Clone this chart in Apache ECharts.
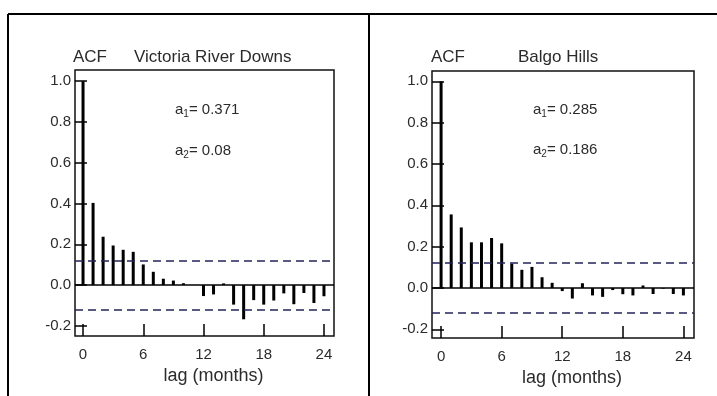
<!DOCTYPE html>
<html>
<head>
<meta charset="utf-8">
<script src="https://cdn.jsdelivr.net/npm/echarts@6/dist/echarts.min.js"></script>
<style>
  html, body { margin: 0; padding: 0; background: #fff; }
  #chart { width: 717px; height: 396px; }
</style>
</head>
<body>
<div id="chart"></div>
<script>
// lags 0..24 (months)
const lags = Array.from({ length: 25 }, (_, i) => i);

// ACF values
const acfVictoria = [1.0, 0.403, 0.237, 0.194, 0.173, 0.163, 0.101, 0.065, 0.031, 0.022, 0.009, 0.0,
  -0.054, -0.046, 0.008, -0.096, -0.168, -0.074, -0.096, -0.076, -0.041, -0.094, -0.039, -0.088, -0.055];
const acfBalgo = [1.0, 0.356, 0.293, 0.221, 0.221, 0.242, 0.216, 0.118, 0.088, 0.102, 0.052, 0.025,
  -0.015, -0.051, 0.023, -0.036, -0.043, -0.01, -0.03, -0.036, 0.012, -0.029, -0.003, -0.029, -0.036];

// confidence bounds
const boundVictoria = 0.118;
const boundBalgo = 0.118;

const xTicks = [0, 6, 12, 18, 24];
const yTicks = [-0.2, 0, 0.2, 0.4, 0.6, 0.8, 1.0];

const textColor = '#2b2b2b';
const font = 'Arial, "Liberation Sans", sans-serif';

function makeXAxis(gridIndex, min, max) {
  return {
    type: 'value',
    gridIndex,
    min,
    max,
    axisLine: { show: false, onZero: false },
    splitLine: { show: false },
    axisTick: {
      inside: true, length: 12, customValues: xTicks,
      lineStyle: { color: '#000', width: 1.5 },
    },
    axisLabel: {
      customValues: xTicks, margin: 11,
      color: textColor, fontSize: 15, fontFamily: font,
    },
    name: 'lag (months)',
    nameLocation: 'middle',
    nameGap: 18,
    nameTextStyle: {
      color: textColor, fontSize: 18, fontFamily: font,
      padding: [0, 0, 0, 18], verticalAlign: 'top',
    },
  };
}

function makeYAxis(gridIndex, min, max) {
  return {
    type: 'value',
    gridIndex,
    min,
    max,
    axisLine: { show: false, onZero: false },
    splitLine: { show: false },
    axisTick: {
      inside: true, length: 12, customValues: yTicks,
      lineStyle: { color: '#000', width: 1.5 },
    },
    axisLabel: {
      customValues: yTicks, margin: 4,
      color: textColor, fontSize: 15, fontFamily: font,
      formatter: (v) => v.toFixed(1),
    },
  };
}

function makeSeries(idx, values, bound) {
  return {
    type: 'bar',
    xAxisIndex: idx,
    yAxisIndex: idx,
    barWidth: 3,
    itemStyle: { color: '#000' },
    silent: true,
    data: lags.map((l, i) => [l, values[i]]),
    markLine: {
      silent: true,
      symbol: 'none',
      label: { show: false },
      data: [
        { yAxis: 0, lineStyle: { color: '#000', width: 1.5, type: 'solid' } },
        { yAxis: bound, lineStyle: { color: '#23235a', width: 1.5, type: [8, 5] } },
        { yAxis: -bound, lineStyle: { color: '#23235a', width: 1.5, type: [8, 5] } },
      ],
    },
  };
}

function label(x, y, text, size) {
  return {
    type: 'text', x, y,
    style: {
      text, fill: textColor, fontSize: size, fontFamily: font, verticalAlign: 'middle',
    },
  };
}

function coef(x, y, sub, val) {
  return {
    type: 'text', x, y,
    style: {
      text: `{a|a}{s|${sub}}{a|= ${val}}`,
      verticalAlign: 'middle',
      rich: {
        a: { fontSize: 15, fontFamily: font, fill: textColor, color: textColor },
        s: { fontSize: 10, fontFamily: font, fill: textColor, color: textColor, padding: [8, 0, 0, 0] },
      },
    },
  };
}

const chart = echarts.init(document.getElementById('chart'), null, { renderer: 'canvas' });

chart.setOption({
  animation: false,
  backgroundColor: '#fff',
  grid: [
    { left: 75, top: 70, width: 259, height: 266, show: true, borderColor: '#111', borderWidth: 1.5 },
    { left: 432, top: 71, width: 262, height: 267, show: true, borderColor: '#111', borderWidth: 1.5 },
  ],
  xAxis: [makeXAxis(0, -0.8, 25), makeXAxis(1, -0.9, 25.05)],
  yAxis: [makeYAxis(0, -0.25, 1.055), makeYAxis(1, -0.242, 1.05)],
  series: [
    makeSeries(0, acfVictoria, boundVictoria),
    makeSeries(1, acfBalgo, boundBalgo),
  ],
  graphic: [
    // panel frame
    { type: 'line', shape: { x1: 8, y1: 14, x2: 717, y2: 14 }, style: { stroke: '#000', lineWidth: 2 } },
    { type: 'line', shape: { x1: 8, y1: 14, x2: 8, y2: 396 }, style: { stroke: '#000', lineWidth: 2 } },
    { type: 'line', shape: { x1: 369, y1: 14, x2: 369, y2: 396 }, style: { stroke: '#000', lineWidth: 2 } },
    // titles
    label(73, 57, 'ACF', 17),
    label(134, 57, 'Victoria River Downs', 17),
    label(431, 57, 'ACF', 17),
    label(518, 57, 'Balgo Hills', 17),
    // coefficients
    coef(175, 110, '1', '0.371'),
    coef(175, 151, '2', '0.08'),
    coef(533, 110, '1', '0.285'),
    coef(533, 150, '2', '0.186'),
  ],
});
</script>
</body>
</html>
